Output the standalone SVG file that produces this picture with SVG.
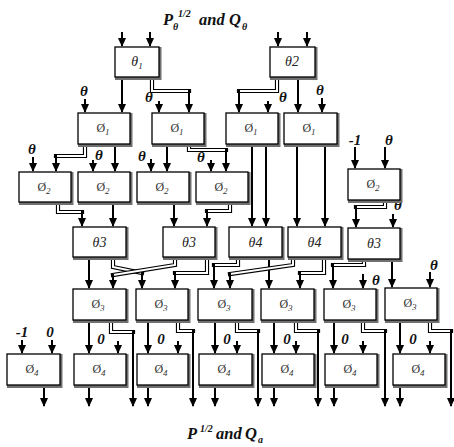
<svg xmlns="http://www.w3.org/2000/svg" xmlns:xlink="http://www.w3.org/1999/xlink" width="454" height="447" viewBox="0 0 454 447">
<style>
.sh{fill:#707070}
.bx{fill:#fff;stroke:#000;stroke-width:1.3}
.bt{font-family:"Liberation Serif",serif;font-style:italic;font-size:14px;text-anchor:middle;fill:#222}
.bp{font-family:"Liberation Serif",serif;font-size:12px;text-anchor:middle;fill:#333}
.sb{font-size:9px;font-style:italic}
.ln{fill:none;stroke:#000;stroke-width:2;marker-end:url(#ah)}
.dO{fill:none;stroke:#000;stroke-width:4.2;stroke-linecap:square;stroke-linejoin:miter}
.dI{fill:none;stroke:#fff;stroke-width:2;stroke-linejoin:miter}
.lb{font-family:"Liberation Serif",serif;font-style:italic;font-weight:bold;font-size:15px;text-anchor:middle;fill:#111}
.ti{font-family:"Liberation Serif",serif;font-style:italic;font-weight:bold;font-size:16.5px;fill:#111}
.ts{font-size:10px}
</style>
<defs>
<marker id="ah" viewBox="0 0 9 8" refX="8" refY="4" markerWidth="9" markerHeight="8" markerUnits="userSpaceOnUse" orient="auto"><path d="M0,0 L9,4 L0,8 z" fill="#000"/></marker>
<path id="d1" d="M152,77 V91 H189"/>
<path id="d2" d="M277,77 V91 H239"/>
<path id="d3" d="M85,144 V156 H56"/>
<path id="d4" d="M189,144 V150 H226"/>
<path id="d5" d="M58,202 V212 H82"/>
<path id="d6" d="M230,202 V211 H207"/>
<path id="d7" d="M385,200 V207 H356"/>
<path id="d8" d="M113,257 V267 L142,273"/>
<path id="d9" d="M175,257 V265 L113,275"/>
<path id="d10" d="M207,257 V273 H175"/>
<path id="d11" d="M238,257 V265 H214"/>
<path id="d12" d="M293,257 V265 L230,274"/>
<path id="d13" d="M324,257 V273 H300"/>
<path id="d14" d="M364,259 V265 H333"/>
<path id="d15" d="M111,320 V332 H133"/>
<path id="d16" d="M178,320 V331 H193"/>
<path id="d17" d="M237,320 V331 H258"/>
<path id="d18" d="M296,320 V331 H318"/>
<path id="d19" d="M363,320 V331 H385"/>
<path id="d20" d="M430,320 V331 H451"/>
</defs>
<rect width="454" height="447" fill="#fff"/>

<g id="title-top"><text class="ti"><tspan x="163" y="25">P</tspan><tspan class="ts" x="173" y="30">θ</tspan><tspan class="ts" x="178" y="17">1/2</tspan><tspan x="199" y="25">and</tspan><tspan x="229" y="25">Q</tspan><tspan class="ts" x="242" y="30">θ</tspan></text></g>
<g id="title-bottom"><text class="ti"><tspan x="187" y="439">P</tspan><tspan class="ts" x="200" y="432">1/2</tspan><tspan x="216" y="439">and</tspan><tspan x="245" y="439">Q</tspan><tspan class="ts" x="258" y="443">a</tspan></text></g>

<g id="connectors">
<line class="ln" x1="122" y1="32" x2="122" y2="46"/>
<line class="ln" x1="150" y1="32" x2="150" y2="46"/>
<line class="ln" x1="278" y1="32" x2="278" y2="46"/>
<line class="ln" x1="307" y1="32" x2="307" y2="46"/>
<line class="ln" x1="122" y1="77" x2="122" y2="112"/>
<line class="ln" x1="298" y1="77" x2="298" y2="112"/>
<line class="ln" x1="85" y1="99" x2="85" y2="112"/>
<line class="ln" x1="159" y1="101" x2="159" y2="112"/>
<line class="ln" x1="268" y1="101" x2="268" y2="112"/>
<line class="ln" x1="322" y1="98" x2="322" y2="112"/>
<line class="ln" x1="33" y1="157" x2="33" y2="171"/>
<line class="ln" x1="93" y1="160" x2="93" y2="171"/>
<line class="ln" x1="115" y1="144" x2="115" y2="171"/>
<line class="ln" x1="151" y1="159" x2="151" y2="171"/>
<line class="ln" x1="167" y1="144" x2="167" y2="171"/>
<line class="ln" x1="211" y1="160" x2="211" y2="171"/>
<line class="ln" x1="252" y1="144" x2="252" y2="226"/>
<line class="ln" x1="266" y1="144" x2="266" y2="226"/>
<line class="ln" x1="297" y1="144" x2="297" y2="226"/>
<line class="ln" x1="325" y1="144" x2="325" y2="226"/>
<line class="ln" x1="355" y1="147" x2="355" y2="168"/>
<line class="ln" x1="385" y1="147" x2="385" y2="168"/>
<line class="ln" x1="113" y1="202" x2="113" y2="226"/>
<line class="ln" x1="174" y1="202" x2="174" y2="226"/>
<line class="ln" x1="393" y1="214" x2="393" y2="227"/>
<line class="ln" x1="89" y1="257" x2="89" y2="288"/>
<line class="ln" x1="269" y1="257" x2="269" y2="288"/>
<line class="ln" x1="363" y1="274" x2="363" y2="288"/>
<line class="ln" x1="392" y1="259" x2="392" y2="287"/>
<line class="ln" x1="430" y1="272" x2="430" y2="287"/>
<line class="ln" x1="89" y1="320" x2="89" y2="353"/>
<line class="ln" x1="148" y1="320" x2="148" y2="353"/>
<line class="ln" x1="215" y1="320" x2="215" y2="353"/>
<line class="ln" x1="274" y1="320" x2="274" y2="353"/>
<line class="ln" x1="334" y1="320" x2="334" y2="353"/>
<line class="ln" x1="400" y1="320" x2="400" y2="353"/>
<line class="ln" x1="118" y1="341" x2="118" y2="353"/>
<line class="ln" x1="178" y1="341" x2="178" y2="353"/>
<line class="ln" x1="237" y1="341" x2="237" y2="353"/>
<line class="ln" x1="296" y1="341" x2="296" y2="353"/>
<line class="ln" x1="363" y1="341" x2="363" y2="353"/>
<line class="ln" x1="430" y1="341" x2="430" y2="353"/>
<line class="ln" x1="22" y1="340" x2="22" y2="353"/>
<line class="ln" x1="52" y1="340" x2="52" y2="353"/>
<line class="ln" x1="44" y1="385" x2="44" y2="406"/>
<line class="ln" x1="89" y1="385" x2="89" y2="406"/>
<line class="ln" x1="148" y1="385" x2="148" y2="406"/>
<line class="ln" x1="215" y1="385" x2="215" y2="406"/>
<line class="ln" x1="274" y1="385" x2="274" y2="406"/>
<line class="ln" x1="334" y1="385" x2="334" y2="406"/>
<line class="ln" x1="400" y1="385" x2="400" y2="406"/>
<g id="double-lines">
<use href="#d1" xlink:href="#d1" class="dO"/><use href="#d1" xlink:href="#d1" class="dI"/>
<use href="#d2" xlink:href="#d2" class="dO"/><use href="#d2" xlink:href="#d2" class="dI"/>
<use href="#d3" xlink:href="#d3" class="dO"/><use href="#d3" xlink:href="#d3" class="dI"/>
<use href="#d4" xlink:href="#d4" class="dO"/><use href="#d4" xlink:href="#d4" class="dI"/>
<use href="#d5" xlink:href="#d5" class="dO"/><use href="#d5" xlink:href="#d5" class="dI"/>
<use href="#d6" xlink:href="#d6" class="dO"/><use href="#d6" xlink:href="#d6" class="dI"/>
<use href="#d7" xlink:href="#d7" class="dO"/><use href="#d7" xlink:href="#d7" class="dI"/>
<use href="#d8" xlink:href="#d8" class="dO"/><use href="#d8" xlink:href="#d8" class="dI"/>
<use href="#d9" xlink:href="#d9" class="dO"/><use href="#d9" xlink:href="#d9" class="dI"/>
<use href="#d10" xlink:href="#d10" class="dO"/><use href="#d10" xlink:href="#d10" class="dI"/>
<use href="#d11" xlink:href="#d11" class="dO"/><use href="#d11" xlink:href="#d11" class="dI"/>
<use href="#d12" xlink:href="#d12" class="dO"/><use href="#d12" xlink:href="#d12" class="dI"/>
<use href="#d13" xlink:href="#d13" class="dO"/><use href="#d13" xlink:href="#d13" class="dI"/>
<use href="#d14" xlink:href="#d14" class="dO"/><use href="#d14" xlink:href="#d14" class="dI"/>
<use href="#d15" xlink:href="#d15" class="dO"/><use href="#d15" xlink:href="#d15" class="dI"/>
<use href="#d16" xlink:href="#d16" class="dO"/><use href="#d16" xlink:href="#d16" class="dI"/>
<use href="#d17" xlink:href="#d17" class="dO"/><use href="#d17" xlink:href="#d17" class="dI"/>
<use href="#d18" xlink:href="#d18" class="dO"/><use href="#d18" xlink:href="#d18" class="dI"/>
<use href="#d19" xlink:href="#d19" class="dO"/><use href="#d19" xlink:href="#d19" class="dI"/>
<use href="#d20" xlink:href="#d20" class="dO"/><use href="#d20" xlink:href="#d20" class="dI"/>
</g>
<line class="ln" x1="189" y1="89" x2="189" y2="112"/>
<line class="ln" x1="239" y1="89" x2="239" y2="112"/>
<line class="ln" x1="56" y1="154" x2="56" y2="171"/>
<line class="ln" x1="226" y1="148" x2="226" y2="171"/>
<line class="ln" x1="82" y1="210" x2="82" y2="226"/>
<line class="ln" x1="207" y1="209" x2="207" y2="226"/>
<line class="ln" x1="356" y1="205" x2="356" y2="227"/>
<line class="ln" x1="142" y1="272" x2="142" y2="288"/>
<line class="ln" x1="113" y1="274" x2="113" y2="288"/>
<line class="ln" x1="175" y1="271" x2="175" y2="288"/>
<line class="ln" x1="214" y1="263" x2="214" y2="288"/>
<line class="ln" x1="230" y1="273" x2="230" y2="288"/>
<line class="ln" x1="300" y1="271" x2="300" y2="288"/>
<line class="ln" x1="333" y1="263" x2="333" y2="288"/>
<line class="ln" x1="133" y1="330" x2="133" y2="406"/>
<line class="ln" x1="193" y1="329" x2="193" y2="406"/>
<line class="ln" x1="258" y1="329" x2="258" y2="406"/>
<line class="ln" x1="318" y1="329" x2="318" y2="406"/>
<line class="ln" x1="385" y1="329" x2="385" y2="406"/>
<line class="ln" x1="451" y1="329" x2="451" y2="406"/>
</g>

<g id="input-labels">
<text class="lb" x="84" y="96">θ</text>
<text class="lb" x="149" y="102">θ</text>
<text class="lb" x="283" y="102">θ</text>
<text class="lb" x="320" y="95">θ</text>
<text class="lb" x="32" y="154">θ</text>
<text class="lb" x="99" y="160">θ</text>
<text class="lb" x="142" y="161">θ</text>
<text class="lb" x="201" y="162">θ</text>
<text class="lb" x="355" y="145">-1</text>
<text class="lb" x="389" y="145">θ</text>
<text class="lb" x="398" y="210">θ</text>
<text class="lb" x="376" y="285">θ</text>
<text class="lb" x="434" y="270">θ</text>
<text class="lb" x="22" y="337">-1</text>
<text class="lb" x="50" y="337">0</text>
<text class="lb" x="101" y="344">0</text>
<text class="lb" x="161" y="344">0</text>
<text class="lb" x="227" y="344">0</text>
<text class="lb" x="287" y="344">0</text>
<text class="lb" x="345" y="344">0</text>
<text class="lb" x="413" y="344">0</text>
</g>

<g id="theta1"><rect class="sh" x="115" y="47" width="46.5" height="33"/><rect class="bx" x="115" y="47" width="44" height="30"/><text class="bt" x="137" y="66">θ<tspan class="sb" dy="3">1</tspan></text></g>
<g id="theta2"><rect class="sh" x="270" y="47" width="47.5" height="33"/><rect class="bx" x="270" y="47" width="45" height="30"/><text class="bt" x="292" y="66">θ2</text></g>

<g id="phi1a"><rect class="sh" x="78" y="113" width="54.5" height="34"/><rect class="bx" x="78" y="113" width="52" height="31"/><text class="bp" x="103" y="132">Ø<tspan class="sb" dy="3">1</tspan></text></g>
<g id="phi1b"><rect class="sh" x="152" y="113" width="54.5" height="34"/><rect class="bx" x="152" y="113" width="52" height="31"/><text class="bp" x="177" y="132">Ø<tspan class="sb" dy="3">1</tspan></text></g>
<g id="phi1c"><rect class="sh" x="226" y="113" width="54.5" height="34"/><rect class="bx" x="226" y="113" width="52" height="31"/><text class="bp" x="251" y="132">Ø<tspan class="sb" dy="3">1</tspan></text></g>
<g id="phi1d"><rect class="sh" x="284" y="113" width="55.5" height="34"/><rect class="bx" x="284" y="113" width="53" height="31"/><text class="bp" x="309" y="132">Ø<tspan class="sb" dy="3">1</tspan></text></g>

<g id="phi2a"><rect class="sh" x="19" y="172" width="54.5" height="33"/><rect class="bx" x="19" y="172" width="52" height="30"/><text class="bp" x="44" y="191">Ø<tspan class="sb" dy="3">2</tspan></text></g>
<g id="phi2b"><rect class="sh" x="78" y="172" width="54.5" height="33"/><rect class="bx" x="78" y="172" width="52" height="30"/><text class="bp" x="103" y="191">Ø<tspan class="sb" dy="3">2</tspan></text></g>
<g id="phi2c"><rect class="sh" x="137" y="172" width="54.5" height="33"/><rect class="bx" x="137" y="172" width="52" height="30"/><text class="bp" x="162" y="191">Ø<tspan class="sb" dy="3">2</tspan></text></g>
<g id="phi2d"><rect class="sh" x="196" y="172" width="54.5" height="33"/><rect class="bx" x="196" y="172" width="52" height="30"/><text class="bp" x="221" y="191">Ø<tspan class="sb" dy="3">2</tspan></text></g>
<g id="phi2e"><rect class="sh" x="348" y="169" width="54.5" height="34"/><rect class="bx" x="348" y="169" width="52" height="31"/><text class="bp" x="373" y="188">Ø<tspan class="sb" dy="3">2</tspan></text></g>

<g id="theta3a"><rect class="sh" x="73" y="227" width="55.5" height="33"/><rect class="bx" x="73" y="227" width="53" height="30"/><text class="bt" x="99.5" y="247">θ3</text></g>
<g id="theta3b"><rect class="sh" x="163" y="227" width="54.5" height="33"/><rect class="bx" x="163" y="227" width="52" height="30"/><text class="bt" x="189" y="247">θ3</text></g>
<g id="theta4a"><rect class="sh" x="229" y="227" width="55.5" height="33"/><rect class="bx" x="229" y="227" width="53" height="30"/><text class="bt" x="255.5" y="247">θ4</text></g>
<g id="theta4b"><rect class="sh" x="288" y="227" width="55.5" height="33"/><rect class="bx" x="288" y="227" width="53" height="30"/><text class="bt" x="314.5" y="247">θ4</text></g>
<g id="theta3c"><rect class="sh" x="348" y="228" width="54.5" height="34"/><rect class="bx" x="348" y="228" width="52" height="31"/><text class="bt" x="374" y="248">θ3</text></g>

<g id="phi3a"><rect class="sh" x="73" y="289" width="55.5" height="34"/><rect class="bx" x="73" y="289" width="53" height="31"/><text class="bp" x="98" y="308">Ø<tspan class="sb" dy="3">3</tspan></text></g>
<g id="phi3b"><rect class="sh" x="136" y="289" width="54.5" height="34"/><rect class="bx" x="136" y="289" width="52" height="31"/><text class="bp" x="161" y="308">Ø<tspan class="sb" dy="3">3</tspan></text></g>
<g id="phi3c"><rect class="sh" x="198" y="289" width="56.5" height="34"/><rect class="bx" x="198" y="289" width="54" height="31"/><text class="bp" x="224" y="308">Ø<tspan class="sb" dy="3">3</tspan></text></g>
<g id="phi3d"><rect class="sh" x="261" y="289" width="55.5" height="34"/><rect class="bx" x="261" y="289" width="53" height="31"/><text class="bp" x="286" y="308">Ø<tspan class="sb" dy="3">3</tspan></text></g>
<g id="phi3e"><rect class="sh" x="324" y="289" width="54.5" height="34"/><rect class="bx" x="324" y="289" width="52" height="31"/><text class="bp" x="349" y="308">Ø<tspan class="sb" dy="3">3</tspan></text></g>
<g id="phi3f"><rect class="sh" x="385" y="288" width="54.5" height="35"/><rect class="bx" x="385" y="288" width="52" height="32"/><text class="bp" x="410" y="307">Ø<tspan class="sb" dy="3">3</tspan></text></g>

<g id="phi4a"><rect class="sh" x="7" y="354" width="55.5" height="34"/><rect class="bx" x="7" y="354" width="53" height="31"/><text class="bp" x="32" y="373">Ø<tspan class="sb" dy="3">4</tspan></text></g>
<g id="phi4b"><rect class="sh" x="74" y="354" width="54.5" height="34"/><rect class="bx" x="74" y="354" width="52" height="31"/><text class="bp" x="99" y="373">Ø<tspan class="sb" dy="3">4</tspan></text></g>
<g id="phi4c"><rect class="sh" x="137" y="354" width="53.5" height="34"/><rect class="bx" x="137" y="354" width="51" height="31"/><text class="bp" x="161" y="373">Ø<tspan class="sb" dy="3">4</tspan></text></g>
<g id="phi4d"><rect class="sh" x="199" y="354" width="55.5" height="34"/><rect class="bx" x="199" y="354" width="53" height="31"/><text class="bp" x="224" y="373">Ø<tspan class="sb" dy="3">4</tspan></text></g>
<g id="phi4e"><rect class="sh" x="262" y="354" width="54.5" height="34"/><rect class="bx" x="262" y="354" width="52" height="31"/><text class="bp" x="287" y="373">Ø<tspan class="sb" dy="3">4</tspan></text></g>
<g id="phi4f"><rect class="sh" x="325" y="354" width="54.5" height="34"/><rect class="bx" x="325" y="354" width="52" height="31"/><text class="bp" x="350" y="373">Ø<tspan class="sb" dy="3">4</tspan></text></g>
<g id="phi4g"><rect class="sh" x="393" y="354" width="54.5" height="34"/><rect class="bx" x="393" y="354" width="52" height="31"/><text class="bp" x="418" y="373">Ø<tspan class="sb" dy="3">4</tspan></text></g>
</svg>
